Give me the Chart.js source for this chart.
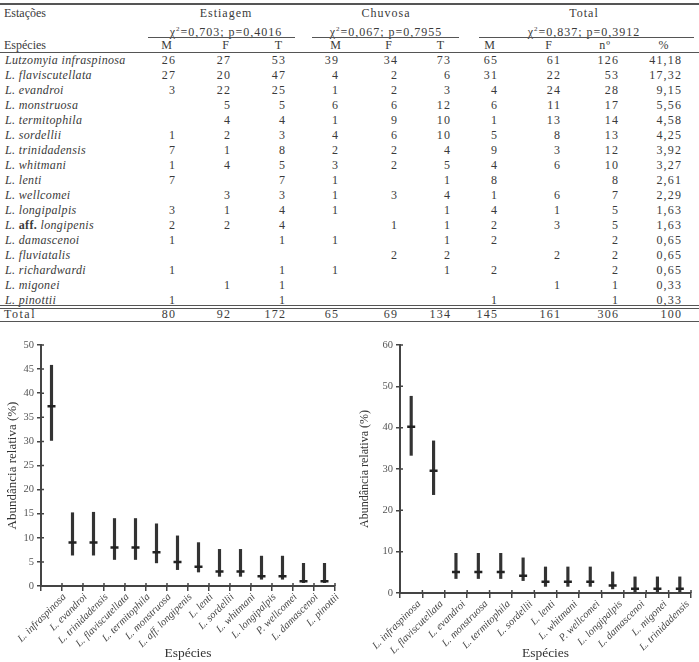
<!DOCTYPE html>
<html>
<head>
<meta charset="utf-8">
<script src="https://cdn.jsdelivr.net/npm/chart.js@4.4.1/dist/chart.umd.min.js"></script>
<style>
	body { margin: 0; background: #fff; width: 699px; height: 662px; overflow: hidden; position: relative; font-family: "Liberation Serif", "DejaVu Serif", serif; color: #3a3a3a; }
	.t { position: absolute; font-size: 12px; line-height: 14px; white-space: nowrap; }
	.n { letter-spacing: 1.2px; text-align: right; width: 60px; }
	.c { text-align: center; width: 200px; letter-spacing: 1px; }
	.sp { font-style: italic; letter-spacing: 0.35px; }
	.ln { position: absolute; background: #555; height: 1px; }
	canvas { position: absolute; }
</style>
</head>
<body>
<div id="tabela"></div>
<canvas id="graficoEstiagem" width="350" height="327" style="left:0;top:335px"></canvas>
<canvas id="graficoChuvosa" width="349" height="327" style="left:350px;top:335px"></canvas>
<script>
// ---- tabela ----
const especiesTabela = [
	"Lutzomyia infraspinosa", "L. flaviscutellata", "L. evandroi", "L. monstruosa",
	"L. termitophila", "L. sordellii", "L. trinidadensis", "L. whitmani", "L. lenti",
	"L. wellcomei", "L. longipalpis", "L. aff. longipenis", "L. damascenoi",
	"L. fluviatalis", "L. richardwardi", "L. migonei", "L. pinottii",
];
const estiagemM = [26, 27, 3, null, null, 1, 7, 1, 7, null, 3, 2, 1, null, 1, null, 1];
const estiagemF = [27, 20, 22, 5, 4, 2, 1, 4, null, 3, 1, 2, null, null, null, 1, null];
const estiagemT = [53, 47, 25, 5, 4, 3, 8, 5, 7, 3, 4, 4, 1, null, 1, 1, 1];
const chuvosaM = [39, 4, 1, 6, 1, 4, 2, 3, 1, 1, 1, null, 1, null, 1, null, null];
const chuvosaF = [34, 2, 2, 6, 9, 6, 2, 2, null, 3, null, 1, null, 2, null, null, null];
const chuvosaT = [73, 6, 3, 12, 10, 10, 4, 5, 1, 4, 1, 1, 1, 2, 1, null, null];
const totalM = [65, 31, 4, 6, 1, 5, 9, 4, 8, 1, 4, 2, 2, null, 2, null, 1];
const totalF = [61, 22, 24, 11, 13, 8, 3, 6, null, 6, 1, 3, null, 2, null, 1, null];
const totalN = [126, 53, 28, 17, 14, 13, 12, 10, 8, 7, 5, 5, 2, 2, 2, 1, 1];
const totalPct = ["41,18", "17,32", "9,15", "5,56", "4,58", "4,25", "3,92", "3,27", "2,61", "2,29", "1,63", "1,63", "0,65", "0,65", "0,65", "0,33", "0,33"];
const linhaTotal = [80, 92, 172, 65, 69, 134, 145, 161, 306, "100"];
const estacoes = ["Estiagem", "Chuvosa", "Total"];
const quiQuadrado = ["0,703", "0,067", "0,837"];
const valorP = ["0,4016", "0,7955", "0,3912"];
const cabecalhos = ["M", "F", "T", "M", "F", "T", "M", "F", "nº", "%"];

const colunas = [estiagemM, estiagemF, estiagemT, chuvosaM, chuvosaF, chuvosaT, totalM, totalF, totalN, totalPct];
const bordaDireita = [175, 230, 285, 338, 397, 450, 497, 560, 618, 681];
const centroCab = [167, 226, 279, 336, 389, 441, 490, 549, 605, 664];
const centroEstacao = [226, 386, 584];
const linhasEstacao = [[148, 295], [312, 459], [479, 694]];

const tabela = document.getElementById("tabela");
function texto(html, classe, x, y) {
	const d = document.createElement("div");
	d.className = "t " + classe;
	d.innerHTML = html;
	d.style.top = y - 7 + "px";
	if (classe.includes("n")) d.style.left = x - 60 + 1.2 + "px";
	else if (classe.includes("c")) d.style.left = x - 100 + "px";
	else d.style.left = x + "px";
	tabela.appendChild(d);
}
function linha(x1, x2, y, h) {
	const d = document.createElement("div");
	d.className = "ln";
	d.style.left = x1 + "px";
	d.style.width = x2 - x1 + "px";
	d.style.top = y + "px";
	d.style.height = (h || 1) + "px";
	tabela.appendChild(d);
}

linha(0, 699, 3, 2);
texto("Estações", "", 4, 13);
texto("Espécies", "", 4, 45);
for (let i = 0; i < estacoes.length; i++) {
	texto(estacoes[i], "c", centroEstacao[i], 13);
	texto(`χ<sup style="font-size:7px">2</sup>=${quiQuadrado[i]}; p=${valorP[i]}`, "c", centroEstacao[i], 29);
	linha(linhasEstacao[i][0], linhasEstacao[i][1], 37);
}
for (let j = 0; j < cabecalhos.length; j++) {
	texto(cabecalhos[j], "c", centroCab[j], 45);
}
linha(0, 699, 52);
for (let i = 0; i < especiesTabela.length; i++) {
	const y = 59.5 + 15 * i;
	const nome = especiesTabela[i].replace("aff.", '<b style="font-style:normal">aff.</b>');
	texto(nome, "sp", 5, y);
	for (let j = 0; j < colunas.length; j++) {
		const v = colunas[j][i];
		if (v !== null) texto(String(v), "n", bordaDireita[j], y);
	}
}
linha(0, 699, 305);
linha(0, 699, 307.5);
texto('<span style="letter-spacing:1.5px">Total</span>', "", 4, 314);
for (let j = 0; j < linhaTotal.length; j++) {
	texto(String(linhaTotal[j]), "n", bordaDireita[j], 314);
}
linha(0, 699, 321);

// ---- gráficos ----
const especiesEstiagem = [
	"L. infraspinosa", "L. evandroi", "L. trinidadensis", "L. flaviscutellata",
	"L. termitophila", "L. monstruosa", "L. aff. longipenis", "L. lenti",
	"L. sordellii", "L. whitmani", "L. longipalpis", "P. wellcomei",
	"L. damascenoi", "L. pinottii",
];
const mediaEstiagem = [37.3, 9, 9, 8, 8, 7, 5, 4, 3, 3, 2, 2, 1, 1];
const minimoEstiagem = [30.2, 6.4, 6.4, 5.5, 5.5, 4.8, 3.4, 2.9, 2.0, 2.0, 1.4, 1.4, 0.7, 0.7];
const maximoEstiagem = [45.8, 15.2, 15.3, 14.0, 14.0, 12.9, 10.4, 9.0, 7.6, 7.6, 6.2, 6.2, 4.7, 4.7];

const especiesChuvosa = [
	"L. infraspinosa", "L. flaviscutellata", "L. evandroi", "L. monstruosa",
	"L. termitophila", "L. sordellii", "L. lenti", "L. whitmani", "P. wellcomei",
	"L. longipalpis", "L. damascenoi", "L. migonei", "L. trinidadensis",
];
const mediaChuvosa = [40.2, 29.6, 5.1, 5.1, 5.1, 4.2, 2.7, 2.7, 2.7, 1.8, 1.0, 1.0, 1.0];
const minimoChuvosa = [33.3, 23.8, 3.5, 3.5, 3.5, 3.0, 1.6, 1.6, 1.6, 1.0, 0.3, 0.3, 0.3];
const maximoChuvosa = [47.6, 36.8, 9.6, 9.6, 9.6, 8.5, 6.3, 6.3, 6.3, 5.1, 3.9, 3.9, 3.9];

const serif = "'Liberation Serif', 'DejaVu Serif', serif";

// petits traits de graduation vers l'intérieur
const tracosInternos = {
	id: "tracosInternos",
	afterDraw(chart) {
		const ctx = chart.ctx;
		const area = chart.chartArea;
		ctx.save();
		ctx.strokeStyle = "#444";
		ctx.lineWidth = 1.5;
		ctx.beginPath();
		for (const t of chart.scales.y.ticks) {
			const y = chart.scales.y.getPixelForValue(t.value);
			ctx.moveTo(area.left, y);
			ctx.lineTo(area.left + 3, y);
		}
		const x = chart.scales.x;
		for (let i = 0; i <= x.ticks.length; i++) {
			const px = x.left + (i * (x.right - x.left)) / x.ticks.length;
			ctx.moveTo(px, area.bottom);
			ctx.lineTo(px, area.bottom - 3);
		}
		ctx.stroke();
		ctx.restore();
	},
};

function afficherGraphique(idCanvas, especies, media, minimo, maximo, cfg) {
	const intervalos = minimo.map((v, i) => [v, maximo[i]]);
	return new Chart(document.getElementById(idCanvas), {
		type: "bar",
		data: {
			labels: especies,
			datasets: [
				{
					type: "bar",
					data: intervalos,
					backgroundColor: "#333",
					barThickness: 2.5,
					order: 2,
				},
				{
					type: "line",
					data: media,
					showLine: false,
					pointStyle: "line",
					pointRadius: 4,
					pointBorderWidth: 2.5,
					pointBorderColor: "#222",
					order: 1,
				},
			],
		},
		options: {
			responsive: false,
			animation: false,
			layout: { padding: cfg.padding },
			plugins: { legend: { display: false }, tooltip: { enabled: false } },
			scales: {
				x: {
					grid: { offset: true, drawOnChartArea: false, tickLength: 5, color: "#444", lineWidth: 1.5 },
					border: { color: "#444", width: 2 },
					ticks: {
						autoSkip: false,
						minRotation: 45,
						maxRotation: 45,
						labelOffset: cfg.labelOffset,
						padding: 0,
						color: "#444",
						font: { family: serif, size: 10.5, style: "italic" },
					},
					title: {
						display: true,
						text: "Espécies",
						color: "#333",
						padding: { top: 0, bottom: 0 },
						font: { family: serif, size: 13.5 },
					},
					afterFit: (s) => { s.height = cfg.alturaX; },
				},
				y: {
					min: 0,
					max: cfg.yMax,
					grid: { drawOnChartArea: false, tickLength: 4, color: "#444", lineWidth: 1.5 },
					border: { color: "#444", width: 2 },
					ticks: {
						stepSize: cfg.passo,
						padding: 3,
						color: "#555",
						font: { family: serif, size: 10.5 },
					},
					title: {
						display: true,
						text: "Abundância relativa (%)",
						color: "#333",
						padding: cfg.paddingTitulo,
						font: { family: serif, size: cfg.tamTitulo },
					},
					afterFit: (s) => { s.width = cfg.larguraY; },
				},
			},
		},
		plugins: [tracosInternos],
	});
}

afficherGraphique("graficoEstiagem", especiesEstiagem, mediaEstiagem, minimoEstiagem, maximoEstiagem, {
	yMax: 50, passo: 5, larguraY: 41, alturaX: 76, labelOffset: 13,
	padding: { top: 10, right: 15, left: 0, bottom: 0 },
	paddingTitulo: { top: 5, bottom: 2 }, tamTitulo: 13,
});
afficherGraphique("graficoChuvosa", especiesChuvosa, mediaChuvosa, minimoChuvosa, maximoChuvosa, {
	yMax: 60, passo: 10, larguraY: 50, alturaX: 69, labelOffset: 8,
	padding: { top: 10, right: 8, left: 0, bottom: 0 },
	paddingTitulo: { top: 8, bottom: 2 }, tamTitulo: 12,
});
</script>
</body>
</html>
